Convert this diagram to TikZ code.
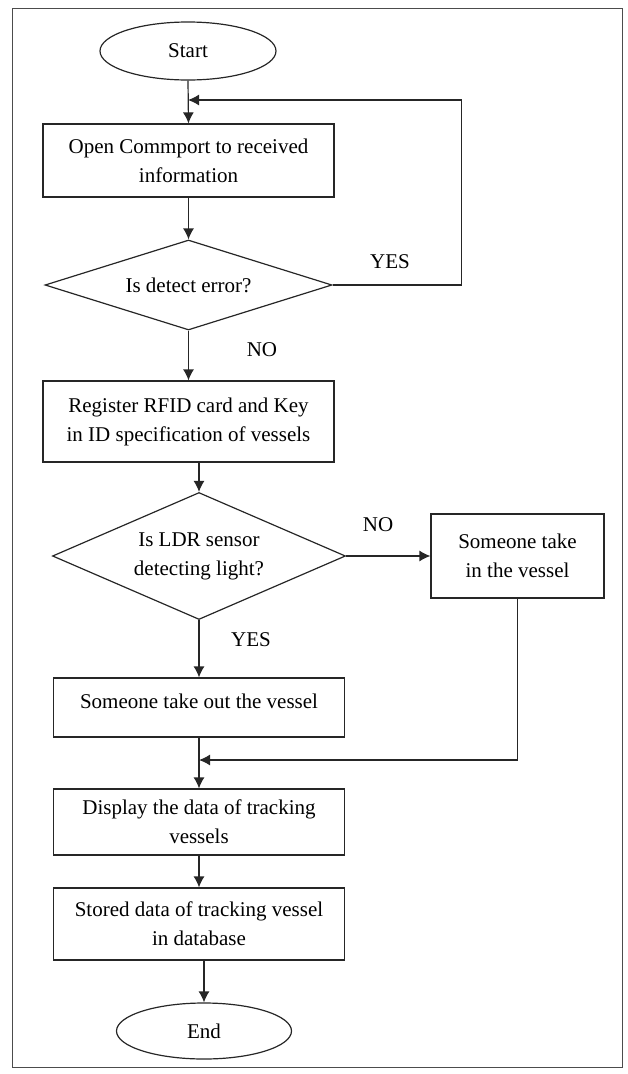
\documentclass[tikz,border=0pt]{standalone}
\usepackage{fontspec}
\setmainfont{Liberation Serif}
\usetikzlibrary{shapes.geometric,arrows.meta}

\tikzset{
  termin/.style={draw=black!85,line width=1.2pt,ellipse,minimum width=176pt,minimum height=58pt,inner sep=0pt},
  proc/.style={draw=black!85,line width=1.2pt,rectangle,minimum width=291pt,align=center,inner sep=0pt},
  decis/.style={draw=black!85,line width=1.2pt,diamond,align=center,inner sep=0pt},
  arr/.style={draw=black!85,line width=1.2pt,-{Latex[length=11pt,width=11pt]}},
  lbl/.style={inner sep=0pt}
}

\begin{document}
\begin{tikzpicture}[x=1pt,y=-1pt,font=\fontsize{21}{29}\selectfont]
\useasboundingbox (0,0) rectangle (628,1074);
%frame
\draw[black!70,line width=1pt] (12,8) rectangle (622,1067);
%shapes
\node[termin] (start) at (188,51) {Start};
\node[proc,minimum height=73pt] (open) at (188.5,160.5) {Open Commport to received\\information};
\node[decis,minimum width=287pt,minimum height=90pt,aspect=3.2] (err) at (188.5,285) {Is detect error?};
\node[proc,minimum height=81pt] (reg) at (188.5,421.5) {Register RFID card and Key\\in ID specification of vessels};
\node[decis,minimum width=293pt,minimum height=127pt,aspect=2.3] (ldr) at (199,556) {Is LDR sensor\\detecting light?};
\node[proc,minimum width=173pt,minimum height=84pt] (takein) at (517.5,556) {Someone take\\in the vessel};
\node[proc,minimum height=59pt,text depth=12pt] (takeout) at (199,707.5) {Someone take out the vessel};
\node[proc,minimum height=66pt] (disp) at (199,822) {Display the data of tracking\\vessels};
\node[proc,minimum height=72pt] (store) at (199,924) {Stored data of tracking vessel\\in database};
\node[termin,minimum width=175pt,minimum height=56pt] (stop) at (204,1031) {End};
%labels
\node[lbl] (yes1) at (390,262) {YES};
\node[lbl] (no1) at (262,350) {NO};
\node[lbl] (no2) at (378,525) {NO};
\node[lbl] (yes2) at (251,640) {YES};
%arrows
\coordinate (back) at (188,100);
\coordinate (join) at (199,760);
\draw[arr] (start.south) -- (open.north);
\draw[arr] (open.south) -- (err.north);
\draw[arr] (err.east) -- ++(129,0) |- (back);
\draw[arr] (err.south) -- (reg.north);
\draw[arr] (reg.south -| ldr.north) -- (ldr.north);
\draw[arr] (ldr.east) -- (takein.west);
\draw[arr] (ldr.south) -- (takeout.north);
\draw[arr] (takein.south) |- (join);
\draw[arr] (takeout.south) -- (disp.north);
\draw[arr] (disp.south) -- (store.north);
\draw[arr] (store.south -| stop.north) -- (stop.north);
\end{tikzpicture}
\end{document}
